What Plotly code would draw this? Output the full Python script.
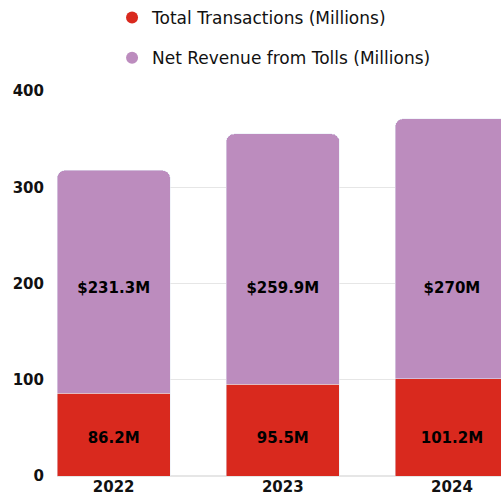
import plotly.graph_objects as go

years = ["2022", "2023", "2024"]
transactions = [86.2, 95.5, 101.2]
revenue = [231.3, 259.9, 270.0]
transaction_labels = ["86.2M", "95.5M", "101.2M"]
revenue_labels = ["$231.3M", "$259.9M", "$270M"]

red = "#D9291E"
purple = "#BC8CBE"
font_family = "DejaVu Sans"
label_font = dict(size=15, color="black", family=font_family, weight="bold")

fig = go.Figure()
fig.add_trace(go.Bar(x=years, y=transactions, marker_color=red,
                     showlegend=False, hoverinfo="skip"))
fig.add_trace(go.Bar(x=years, y=revenue, marker_color=purple,
                     showlegend=False, hoverinfo="skip"))

# value labels sit on one common line per series, like the original
fig.add_trace(go.Scatter(x=years, y=[38] * len(years), mode="text",
                         text=transaction_labels, textfont=label_font,
                         showlegend=False, hoverinfo="skip"))
fig.add_trace(go.Scatter(x=years, y=[194] * len(years), mode="text",
                         text=revenue_labels, textfont=label_font,
                         showlegend=False, hoverinfo="skip"))

# legend entries with round markers
fig.add_trace(go.Scatter(x=[None], y=[None], mode="markers",
                         marker=dict(color=red, size=16, symbol="circle"),
                         name="Total Transactions (Millions)", legendgroup="a"))
fig.add_trace(go.Scatter(x=[None], y=[None], mode="markers",
                         marker=dict(color=purple, size=16, symbol="circle"),
                         name="Net Revenue from Tolls (Millions)", legendgroup="b"))

fig.update_layout(
    width=501, height=503,
    barmode="stack", bargap=0.33, barcornerradius=8,
    plot_bgcolor="white", paper_bgcolor="white",
    margin=dict(l=57, r=0, t=90, b=27),
    font=dict(family=font_family, size=15, color="#111111"),
    legend=dict(orientation="v", x=0.124, xanchor="left", y=1.235, yanchor="top",
                tracegroupgap=15, font=dict(size=17), itemsizing="constant"),
    xaxis=dict(range=[-0.335, 2.29], showgrid=False, showline=False,
               tickfont=dict(size=15, weight=600), fixedrange=True),
    yaxis=dict(range=[0, 400], tickvals=[0, 100, 200, 300, 400],
               gridcolor="#E6E6E6", zeroline=True, zerolinecolor="#E6E6E6",
               tickfont=dict(size=15, weight=600), ticklabelstandoff=12),
)

fig.write_html("out.html", config={"displayModeBar": False},
               post_script="document.body.style.margin='0';")
